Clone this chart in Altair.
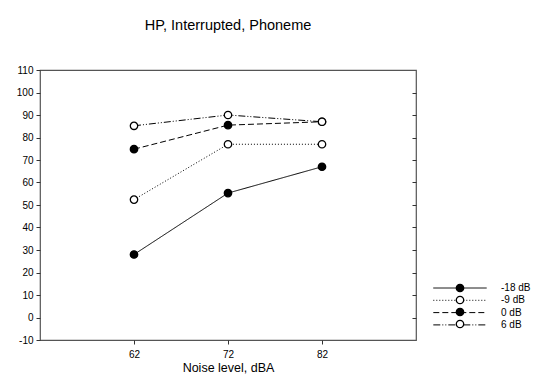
import altair as alt
import pandas as pd

noise_levels = [62, 72, 82]
series_names = ["-18 dB", "-9 dB", "0 dB", "6 dB"]
scores_m18 = [28.0, 55.3, 67.0]
scores_m9 = [52.4, 77.0, 77.0]
scores_0 = [74.8, 85.5, 87.0]
scores_6 = [85.2, 90.0, 87.0]
y_ticks = list(range(-10, 111, 10))

rows = []
for name, vals in zip(series_names, [scores_m18, scores_m9, scores_0, scores_6]):
    for x, v in zip(noise_levels, vals):
        rows.append({"noise": x, "score": v, "series": name, "series2": name})
df = pd.DataFrame(rows)

FONT = "Liberation Sans"
xscale = alt.Scale(domain=[52, 92], nice=False, zero=False)
yscale = alt.Scale(domain=[-10, 110], nice=False, zero=False)
xaxis = alt.Axis(values=noise_levels, title="Noise level, dBA", grid=False, domain=False,
                 tickSize=4, labelPadding=5, titlePadding=2, labelFontSize=10,
                 titleFontSize=12.5, titleFontWeight="normal", tickColor="#333")

dash_range = [[1, 0], [1, 2], [6, 3], [7, 2, 1, 2, 1, 2]]
SYM = 55

lines = alt.Chart(df).mark_line(color="black", strokeWidth=1).encode(
    x=alt.X("noise:Q", scale=xscale, axis=xaxis),
    y=alt.Y("score:Q", scale=yscale,
            axis=alt.Axis(values=y_ticks, title=None, grid=False, domain=False,
                          tickSize=4, labelPadding=3, labelFontSize=10, tickColor="#333",
                          labelExpr="datum.value + ''")),
    strokeDash=alt.StrokeDash(
        "series:N", sort=series_names,
        scale=alt.Scale(domain=series_names, range=dash_range),
        legend=alt.Legend(orient="none", legendX=415, legendY=213, title=None,
                          symbolType="M-7.2,0L7.2,0", symbolSize=SYM, symbolStrokeWidth=1,
                          symbolStrokeColor="black", labelFontSize=10, labelOffset=36,
                          rowPadding=2.3, labelFont=FONT)),
    order="noise:Q",
)

points = alt.Chart(df).mark_point(shape="circle", size=55, stroke="black",
                                  strokeWidth=1.3, opacity=1).encode(
    x=alt.X("noise:Q", scale=xscale, axis=xaxis),
    y=alt.Y("score:Q", scale=yscale,
            axis=alt.Axis(orient="right", values=list(range(0, 101, 10)), offset=-4,
                          labels=False, domain=False, grid=False, title=None,
                          tickSize=4, tickColor="#333")),
    fill=alt.Fill(
        "series2:N", sort=series_names,
        scale=alt.Scale(domain=series_names, range=["black", "white", "black", "white"]),
        legend=alt.Legend(orient="none", legendX=415, legendY=213, title=None,
                          symbolType="circle", symbolSize=SYM, symbolStrokeWidth=1.3,
                          symbolStrokeColor="black", labelOpacity=0, labelFontSize=10,
                          rowPadding=-2.5)),
)

chart = alt.layer(lines, points).resolve_axis(y="independent").resolve_legend(
    fill="independent", strokeDash="independent"
).properties(
    width=376, height=270,
    title=alt.TitleParams("HP, Interrupted, Phoneme", fontSize=14.5, fontWeight="normal",
                          anchor="middle", offset=32, font=FONT),
    autosize=alt.AutoSizeParams(type="none"),
    padding={"left": 32, "top": 62, "right": 115, "bottom": 37},
).configure(
    font=FONT
).configure_view(
    stroke="#555", strokeWidth=1.2
).configure_axis(
    labelFont=FONT, titleFont=FONT, labelColor="black", titleColor="black"
)

chart.save("out.html", embed_options={"renderer": "svg", "actions": False})
